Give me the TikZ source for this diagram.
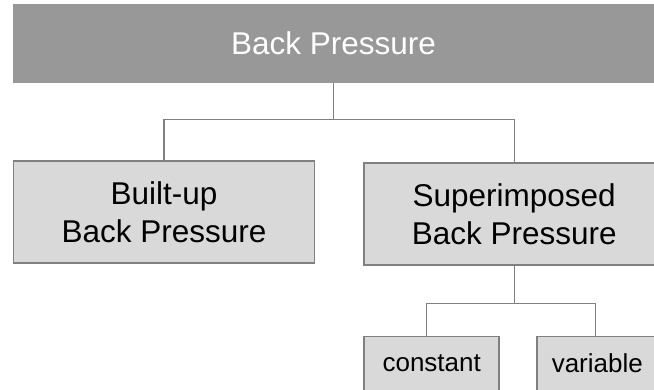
\documentclass[tikz,border=0pt]{standalone}
\usepackage{fontspec}
\setmainfont{Liberation Sans}
\usepackage{tikz}
\usetikzlibrary{positioning}

\definecolor{headgray}{HTML}{989898}
\definecolor{boxgray}{HTML}{D9D9D9}
\definecolor{linegray}{HTML}{808080}

\begin{document}
\begin{tikzpicture}[x=1pt, y=1pt,
        headbox/.style={fill=headgray, text=white, inner sep=0pt,
            minimum width=641pt, minimum height=79pt,
            font=\fontsize{31.5}{38}\selectfont},
        bigbox/.style={draw=linegray, line width=1.6pt, fill=boxgray, inner sep=0pt,
            minimum height=102pt, align=center,
            font=\fontsize{31.5}{38}\selectfont},
        smallbox/.style={draw=linegray, line width=1.6pt, fill=boxgray, inner sep=0pt,
            minimum height=54pt, font=\fontsize{26}{30}\selectfont},
        conn/.style={draw=linegray, line width=1.3pt}]
        \useasboundingbox (0,0) rectangle (654,-389);

        \node[headbox] (bp) at (333.5,-43.5) {Back Pressure};
        \node[bigbox, minimum width=301pt, below=77pt of bp.south west, anchor=north west] (built) {Built-up\\Back Pressure};
        \node[bigbox, minimum width=300pt, right=48pt of built.north east, anchor=north west, yshift=-2pt] (sup) {Superimposed\\Back Pressure};
        \node[smallbox, minimum width=135pt, below=70pt of sup.south west, anchor=north west] (const) {constant};
        \node[smallbox, minimum width=121pt, right=36pt of const.north east, anchor=north west] (var) {variable};

        % bus lines
        \coordinate[below=36pt of bp.south] (bus1);
        \coordinate[below=38pt of sup.south] (bus2);

        \draw[conn] (bp.south) -- (bus1) -| (built.north);
        \draw[conn] (bus1) -| (sup.north);
        \draw[conn] (sup.south) -- (bus2) -| ([xshift=-5pt]const.north);
        \draw[conn] (bus2) -| ([xshift=-2pt]var.north);
    \end{tikzpicture}
\end{document}
